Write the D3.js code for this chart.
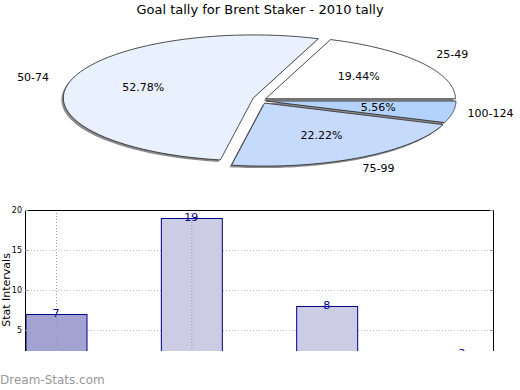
<!DOCTYPE html>
<html>
<head>
<meta charset="utf-8">
<script src="https://cdn.jsdelivr.net/npm/d3@7"></script>
<style>
  body { margin: 0; background: #fff; }
  svg { display: block; font-family: "DejaVu Sans", sans-serif; }
</style>
</head>
<body>
<div class="svg-container"></div>
<script>
// chart data
const categories = ["25-49", "50-74", "75-99", "100-124"];
const values = [7, 19, 8, 2];
const pieColors = ["#ffffff", "#eaf1fe", "#c6dafc", "#b4d3fc"];
const explode = [3, 10, 3, 3];
const yTicks = [5, 10, 15, 20];
const xGridCategories = ["25-49", "50-74"];

const width = 520, height = 390;

const svg = d3.select('.svg-container').append('svg')
    .attr('width', width)
    .attr('height', height);

// title
svg.append('text')
    .attr('x', 260)
    .attr('y', 14)
    .attr('text-anchor', 'middle')
    .style('font-size', '13px')
    .text('Goal tally for Brent Staker - 2010 tally');

/**
 * Pie (flat ellipse, counter-clockwise from 3 o'clock)
 */
const cx = 263, cy = 100.5, rx = 190, ry = 63;
const total = d3.sum(values);
const pie = d3.pie().sort(null).value(d => d)
    .startAngle(0).endAngle(2 * Math.PI);
const arcs = pie(values);

function slicePath(a, dx, dy) {
    const steps = 60;
    const pts = [[cx + dx, cy + dy]];
    for (let i = 0; i <= steps; i++) {
        const t = a.startAngle + (a.endAngle - a.startAngle) * i / steps;
        pts.push([cx + dx + rx * Math.cos(t), cy + dy - ry * Math.sin(t)]);
    }
    return d3.line()(pts) + 'Z';
}

const pieG = svg.append('g');
arcs.forEach((a, i) => {
    const mid = (a.startAngle + a.endAngle) / 2;
    a.dx = explode[i] * Math.cos(mid);
    a.dy = -explode[i] * Math.sin(mid);
    a.mid = mid;
});

// shadows
pieG.selectAll('path.shadow')
    .data(arcs)
    .enter()
    .append('path')
    .attr('class', 'shadow')
    .attr('d', a => slicePath(a, a.dx - 2, a.dy + 2))
    .attr('fill', '#8a8a8a');

pieG.selectAll('path.slice')
    .data(arcs)
    .enter()
    .append('path')
    .attr('class', 'slice')
    .attr('d', a => slicePath(a, a.dx, a.dy))
    .attr('fill', (a, i) => pieColors[i])
    .attr('stroke', '#222')
    .attr('stroke-width', 0.8)
    .attr('stroke-linejoin', 'round');

// percentage labels
pieG.selectAll('text.pct')
    .data(arcs)
    .enter()
    .append('text')
    .attr('x', a => cx + a.dx + rx * 0.6 * Math.cos(a.mid))
    .attr('y', a => cy + a.dy - ry * 0.6 * Math.sin(a.mid) + 3)
    .attr('text-anchor', 'middle')
    .style('font-size', '11px')
    .text(a => (a.value / total * 100).toFixed(2) + '%');

// category labels
pieG.selectAll('text.cat')
    .data(arcs)
    .enter()
    .append('text')
    .attr('x', a => cx + a.dx + rx * 1.2 * Math.cos(a.mid))
    .attr('y', a => cy + a.dy - ry * 1.2 * Math.sin(a.mid) + 3)
    .attr('text-anchor', 'middle')
    .style('font-size', '11px')
    .text((a, i) => categories[i]);

/**
 * Bar chart
 */
const plotLeft = 25, plotRight = 493, plotTop = 210, clipBottom = 351;

const xScale = d3.scalePoint()
    .domain(categories)
    .range([plotLeft, plotRight])
    .padding(0.229);

const yScale = d3.scaleLinear()
    .domain([0, 20])
    .range([370, plotTop]);

svg.append('clipPath').attr('id', 'plotClip')
    .append('rect')
    .attr('x', plotLeft).attr('y', plotTop - 10)
    .attr('width', plotRight - plotLeft + 1).attr('height', clipBottom - plotTop + 10);

const chart = svg.append('g').attr('clip-path', 'url(#plotClip)');

// grid
chart.selectAll('line.hgrid')
    .data(yTicks.filter(t => t < 20))
    .enter()
    .append('line')
    .attr('x1', plotLeft).attr('x2', plotRight)
    .attr('y1', d => yScale(d) + 0.5).attr('y2', d => yScale(d) + 0.5)
    .attr('stroke', '#bbb')
    .attr('stroke-dasharray', '1,2');

const barW = 61;
chart.selectAll('rect.bar')
    .data(values)
    .enter()
    .append('rect')
    .attr('x', (d, i) => xScale(categories[i]) - barW / 2 + 0.5)
    .attr('y', d => yScale(d) + 0.5)
    .attr('width', barW)
    .attr('height', d => yScale(0) - yScale(d))
    .attr('fill', (d, i) => i === 0 ? '#a3a3d1' : '#ccccE5')
    .attr('stroke', '#00008b')
    .attr('stroke-width', 1);

chart.selectAll('line.vgrid')
    .data(xGridCategories)
    .enter()
    .append('line')
    .attr('x1', d => xScale(d) + 0.5).attr('x2', d => xScale(d) + 0.5)
    .attr('y1', plotTop).attr('y2', clipBottom)
    .attr('stroke', '#999')
    .attr('stroke-dasharray', '1,2');

chart.selectAll('text.val')
    .data(values)
    .enter()
    .append('text')
    .attr('x', (d, i) => xScale(categories[i]))
    .attr('y', d => yScale(d) + 3)
    .attr('text-anchor', 'middle')
    .attr('fill', '#00008b')
    .style('font-size', '11px')
    .text(d => d);

// frame
svg.append('path')
    .attr('d', `M${plotLeft + 0.5},${clipBottom}V${plotTop + 0.5}H${plotRight + 0.5}V${clipBottom}`)
    .attr('fill', 'none')
    .attr('stroke', '#000')
    .attr('stroke-width', 1);

// ticks
yTicks.forEach(t => {
    svg.append('line')
        .attr('x1', plotLeft).attr('x2', plotLeft + 3)
        .attr('y1', yScale(t) + 0.5).attr('y2', yScale(t) + 0.5)
        .attr('stroke', '#999');
    svg.append('line')
        .attr('x1', plotRight - 3).attr('x2', plotRight)
        .attr('y1', yScale(t) + 0.5).attr('y2', yScale(t) + 0.5)
        .attr('stroke', '#999');
    svg.append('text')
        .attr('x', plotLeft - 3)
        .attr('y', yScale(t) + 3)
        .attr('text-anchor', 'end')
        .style('font-size', '8px')
        .text(t);
});

svg.append('text')
    .attr('transform', `translate(10, 290) rotate(-90)`)
    .attr('text-anchor', 'middle')
    .style('font-size', '11px')
    .text('Stat Intervals');

// watermark
svg.append('text')
    .attr('x', 0)
    .attr('y', 384)
    .attr('fill', '#999')
    .style('font-size', '12px')
    .text('Dream-Stats.com');
</script>
</body>
</html>
